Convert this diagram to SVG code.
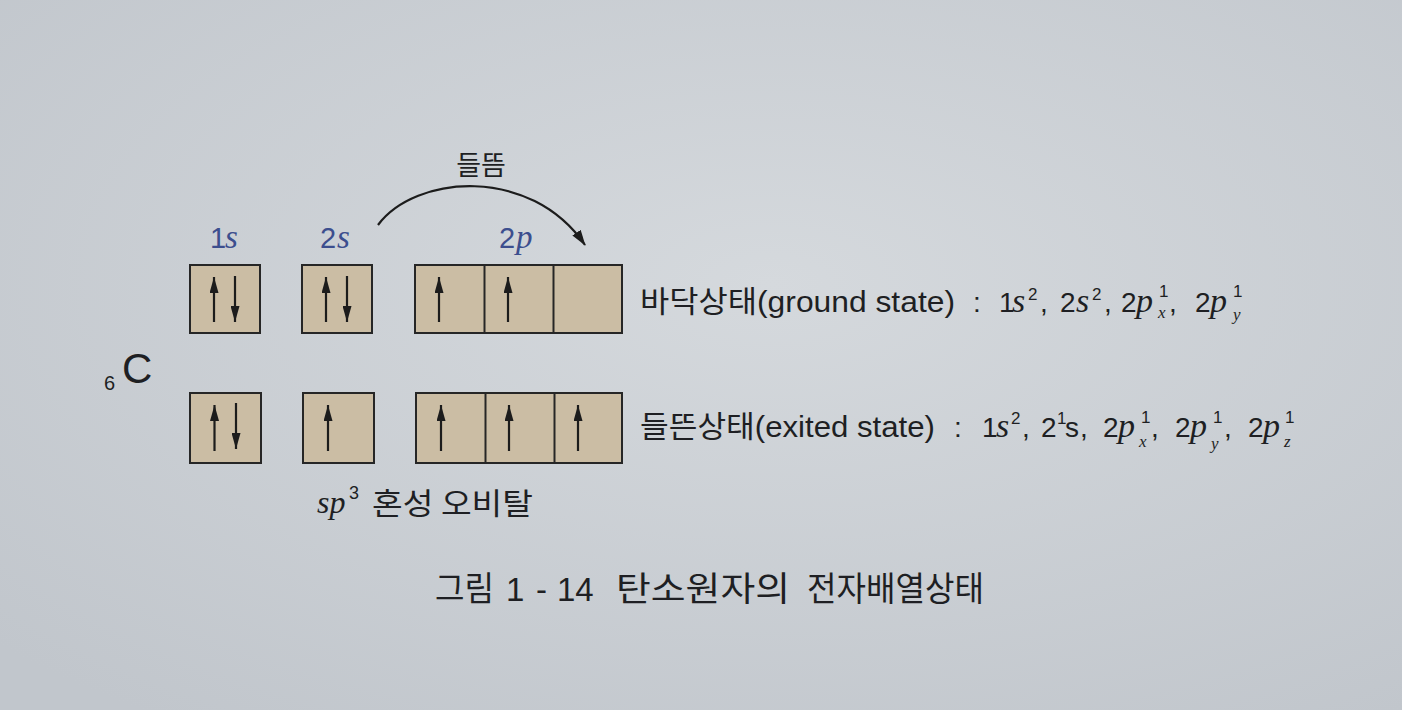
<svg xmlns="http://www.w3.org/2000/svg" width="1402" height="710" viewBox="0 0 1402 710">
<defs>
<radialGradient id="bg" cx="0.55" cy="0.4" r="0.75">
<stop offset="0" stop-color="#d5d9dd"/>
<stop offset="1" stop-color="#c1c6cc"/>
</radialGradient>
<marker id="ah" viewBox="0 0 16 9" markerWidth="16" markerHeight="9" refX="16" refY="4.5" orient="auto" markerUnits="userSpaceOnUse">
<path d="M0,0 L16,4.5 L0,9 z" fill="#1c1c1c"/>
</marker>
<marker id="ah2" viewBox="0 0 16 10" markerWidth="16" markerHeight="10" refX="15" refY="5" orient="auto" markerUnits="userSpaceOnUse">
<path d="M0,0 L16,5 L0,10 z" fill="#1c1c1c"/>
</marker>
</defs>
<style>
.box{fill:#cbbda4;stroke:#262626;stroke-width:2}
.div{stroke:#262626;stroke-width:2}
.e{stroke:#1c1c1c;stroke-width:2.2;marker-end:url(#ah)}
.t{font-family:"Liberation Sans","Noto Sans CJK KR",sans-serif;fill:#1e1f23}
.k{font-family:"Noto Sans CJK KR","Liberation Sans",sans-serif;fill:#1e1f23}
.i{font-family:"Liberation Serif",serif;font-style:italic;fill:#1e1f23}
.b{fill:#3c4e8e}
.m{font-size:28px}
.mi{font-size:34px}
.sp{font-size:17px}
</style>
<rect width="1402" height="710" fill="url(#bg)"/>

<g id="labels">
<text class="t b" x="210" y="248" font-size="29">1</text><text class="i b" x="225" y="248" font-size="33">s</text>
<text class="t b" x="320" y="248" font-size="29">2</text><text class="i b" x="337" y="248" font-size="33">s</text>
<text class="t b" x="499" y="248" font-size="29">2</text><text class="i b" x="516" y="248" font-size="33">p</text>
</g>

<g id="excitation-label">
<text class="k" x="481" y="175" font-size="27" text-anchor="middle">들뜸</text>
</g>

<g id="connectors">
<path d="M378,225 C415,175 530,165 585,245" fill="none" stroke="#1c1c1c" stroke-width="2.2" marker-end="url(#ah2)"/>
</g>

<g id="carbon">
<text class="t" x="104" y="390" font-size="20">6</text>
<text class="t" x="122" y="383" font-size="42">C</text>
</g>

<g id="ground-1s">
<rect class="box" x="190" y="265" width="70" height="68"/>
<line class="e" x1="214" y1="322" x2="214" y2="277"/>
<line class="e" x1="235" y1="276" x2="235" y2="322"/>
</g>
<g id="ground-2s">
<rect class="box" x="302" y="265" width="70" height="68"/>
<line class="e" x1="326" y1="322" x2="326" y2="277"/>
<line class="e" x1="347" y1="276" x2="347" y2="322"/>
</g>
<g id="ground-2p">
<rect class="box" x="415" y="265" width="207" height="68"/>
<line class="div" x1="484.5" y1="265" x2="484.5" y2="333"/>
<line class="div" x1="553.5" y1="265" x2="553.5" y2="333"/>
<line class="e" x1="439" y1="322" x2="439" y2="277"/>
<line class="e" x1="508" y1="322" x2="508" y2="277"/>
</g>

<g id="excited-1s">
<rect class="box" x="190" y="393" width="71" height="70"/>
<line class="e" x1="214.5" y1="451" x2="214.5" y2="405"/>
<line class="e" x1="236" y1="403" x2="236" y2="449"/>
</g>
<g id="excited-2s">
<rect class="box" x="303" y="393" width="71" height="70"/>
<line class="e" x1="328" y1="451" x2="328" y2="405"/>
</g>
<g id="excited-2p">
<rect class="box" x="416" y="393" width="206" height="70"/>
<line class="div" x1="485.5" y1="393" x2="485.5" y2="463"/>
<line class="div" x1="554.5" y1="393" x2="554.5" y2="463"/>
<line class="e" x1="441" y1="451" x2="441" y2="405"/>
<line class="e" x1="509" y1="451" x2="509" y2="405"/>
<line class="e" x1="578" y1="451" x2="578" y2="405"/>
</g>

<g id="ground-state">
<text class="t" x="640" y="312" font-size="30" textLength="315" lengthAdjust="spacingAndGlyphs">바닥상태(ground state)</text>
<text class="t m" x="973" y="312">:</text>
<text class="t m" x="999" y="312">1</text><text class="i mi" x="1012" y="312">s</text><text class="t sp" x="1028" y="300">2</text><text class="t m" x="1040" y="312">,</text>
<text class="t m" x="1060" y="312">2</text><text class="i mi" x="1076" y="312">s</text><text class="t sp" x="1092" y="300">2</text><text class="t m" x="1104" y="312">,</text>
<text class="t m" x="1121" y="312">2</text><text class="i mi" x="1136" y="312">p</text><text class="t sp" x="1159" y="297">1</text><text class="i sp" x="1158" y="318">x</text><text class="t m" x="1169" y="312">,</text>
<text class="t m" x="1195" y="312">2</text><text class="i mi" x="1210" y="312">p</text><text class="t sp" x="1233" y="297">1</text><text class="i sp" x="1233" y="320">y</text>
</g>

<g id="excited-state">
<text class="t" x="640" y="437" font-size="30" textLength="295" lengthAdjust="spacingAndGlyphs">들뜬상태(exited state)</text>
<text class="t m" x="954" y="437">:</text>
<text class="t m" x="982" y="437">1</text><text class="i mi" x="996" y="437">s</text><text class="t sp" x="1011" y="424">2</text><text class="t m" x="1022" y="437">,</text>
<text class="t m" x="1041" y="437">2</text><text class="t sp" x="1057" y="424">1</text><text class="t m" x="1065" y="437">s</text><text class="t m" x="1080" y="437">,</text>
<text class="t m" x="1103" y="437">2</text><text class="i mi" x="1118" y="437">p</text><text class="t sp" x="1141" y="423">1</text><text class="i sp" x="1139" y="447">x</text><text class="t m" x="1151" y="437">,</text>
<text class="t m" x="1175" y="437">2</text><text class="i mi" x="1190" y="437">p</text><text class="t sp" x="1213" y="423">1</text><text class="i sp" x="1211" y="449">y</text><text class="t m" x="1224" y="437">,</text>
<text class="t m" x="1248" y="437">2</text><text class="i mi" x="1263" y="437">p</text><text class="t sp" x="1285" y="423">1</text><text class="i sp" x="1284" y="447">z</text>
</g>

<g id="hybrid-label">
<text class="i" x="317" y="513" font-size="32">sp</text><text class="t" x="349" y="499" font-size="18">3</text>
<text class="k" x="372" y="514" font-size="30" textLength="161" lengthAdjust="spacingAndGlyphs">혼성 오비탈</text>
</g>

<g id="caption">
<text class="k" x="435" y="601" font-size="34" textLength="59" lengthAdjust="spacingAndGlyphs">그림</text>
<text class="t" x="506" y="601" font-size="33">1</text>
<text class="t" x="536" y="601" font-size="33">-</text>
<text class="t" x="557" y="601" font-size="33">14</text>
<text class="k" x="616" y="601" font-size="34" textLength="174" lengthAdjust="spacingAndGlyphs">탄소원자의</text>
<text class="k" x="807" y="601" font-size="34" textLength="177" lengthAdjust="spacingAndGlyphs">전자배열상태</text>
</g>
</svg>
